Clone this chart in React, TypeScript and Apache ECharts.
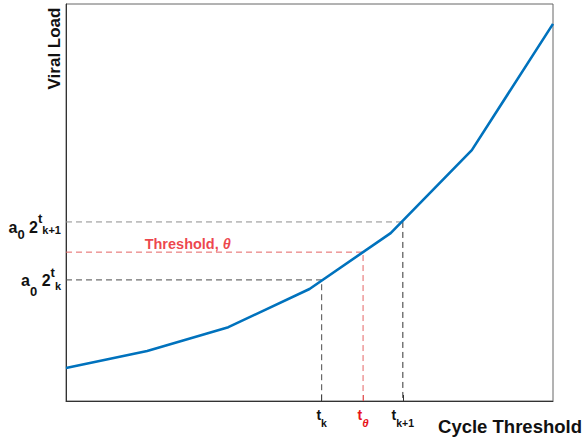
import React, { useEffect, useRef } from "react";
import * as echarts from "echarts";

// Cycle index (x) and viral load (y, arbitrary linear units)
const cycleValues = [0, 1, 2, 3, 4, 5, 6];
const viralLoad = [8.3, 12.6, 18.6, 28.2, 42.3, 63.2, 95.0];

// Threshold markers
const tK = 3.15;
const tTheta = 3.66;
const tK1 = 4.15;
const loadK = 30.5;
const loadTheta = 37.5;
const loadK1 = 45.1;

const xTickValues = [tK, tTheta, tK1];
const yTickValues = [loadK, loadK1];
const thresholdLabelPos = [1.5, loadTheta];

const FONT = "'Liberation Sans', Arial, Helvetica, sans-serif";
const RED = "#e8141c";

const pad = (d: number) => (d >= 0 ? [2 * d, 0, 0, 0] : [0, 0, -2 * d, 0]);

export default function App() {
  const ref = useRef<HTMLDivElement>(null);
  useEffect(() => {
    if (!ref.current) return;
    const chart = echarts.init(ref.current, null, { renderer: "svg" });
    const base = { fontFamily: FONT, fontWeight: "bold", color: "#111" };
    const option: any = {
      animation: false,
      grid: {
        left: 66,
        right: 31,
        top: 4,
        bottom: 40,
        show: true,
        borderColor: "#666",
        borderWidth: 1,
      },
      xAxis: [
        {
          type: "value",
          min: 0,
          max: 6,
          position: "bottom",
          axisLine: { show: true, onZero: false, lineStyle: { color: "#333", width: 1 } },
          splitLine: { show: false },
          axisTick: {
            show: true,
            inside: true,
            length: 6,
            customValues: [tK, tK1],
            lineStyle: { color: "#333" },
          },
          axisLabel: {
            customValues: xTickValues,
            margin: 7,
            formatter: (v: number) => {
              if (Math.abs(v - tTheta) < 1e-6) return "{rt|t}{rs|θ}";
              if (Math.abs(v - tK1) < 1e-6) return "{t|t}{s|k+1}";
              return "{t|t}{s|k}";
            },
            rich: {
              t: { ...base, fontSize: 14, padding: pad(-4) },
              s: { ...base, fontSize: 10.5, padding: pad(4) },
              rt: { ...base, color: RED, fontSize: 14, padding: pad(-4) },
              rs: { ...base, color: RED, fontSize: 11.5, fontStyle: "italic", padding: pad(4) },
            },
          },
        },
        {
          type: "value",
          min: 0,
          max: 6,
          position: "bottom",
          axisLine: { show: false },
          splitLine: { show: false },
          axisTick: {
            show: true,
            inside: true,
            length: 6,
            customValues: [tTheta],
            lineStyle: { color: "#e05050" },
          },
          axisLabel: { show: false },
        },
      ],
      yAxis: {
        type: "value",
        min: 0,
        max: 100,
        axisLine: { show: true, onZero: false, lineStyle: { color: "#333", width: 1 } },
        axisTick: { show: false },
        splitLine: { show: false },
        axisLabel: {
          customValues: yTickValues,
          margin: 5,
          formatter: (v: number) => {
            if (Math.abs(v - loadK1) < 1e-6) return "{a1|a}{z1|0}{a1| 2}{t1|t}{k1|k+1}";
            return "{a2|a}{z2|0}{a2| 2}{t2|t}{k2|k}";
          },
          rich: {
            a1: { ...base, fontSize: 16, padding: pad(5.8) },
            z1: { ...base, fontSize: 13, padding: pad(12.8) },
            t1: { ...base, fontSize: 13, padding: pad(-3.2) },
            k1: { ...base, fontSize: 11, padding: pad(7.6) },
            a2: { ...base, fontSize: 16, padding: pad(0.2) },
            z2: { ...base, fontSize: 13, padding: pad(11.2) },
            t2: { ...base, fontSize: 13, padding: pad(-7.8) },
            k2: { ...base, fontSize: 11, padding: pad(6) },
          },
        },
      },
      series: [
        {
          type: "line",
          data: [[0, loadK1], [tK1, loadK1]],
          symbol: "none",
          silent: true,
          lineStyle: { color: "#8e8e8e", width: 1, type: [6, 4] },
          z: 1,
        },
        {
          type: "line",
          data: [[tK1, loadK1], [tK1, 0]],
          symbol: "none",
          silent: true,
          lineStyle: { color: "#333", width: 1, type: [6, 4] },
          z: 1,
        },
        {
          type: "line",
          data: [[0, loadK], [tK, loadK], [tK, 0]],
          symbol: "none",
          silent: true,
          lineStyle: { color: "#4a4a4a", width: 1, type: [6, 4] },
          z: 1,
        },
        {
          type: "line",
          data: [[0, loadTheta], [tTheta, loadTheta], [tTheta, 0]],
          symbol: "none",
          silent: true,
          lineStyle: { color: "#e46464", width: 1, type: [6, 4] },
          z: 1,
        },
        {
          type: "scatter",
          data: [thresholdLabelPos],
          symbolSize: 0,
          silent: true,
          label: {
            show: true,
            position: "top",
            distance: 1,
            formatter: "{r|Threshold, }{th|θ}",
            rich: {
              r: { fontFamily: FONT, fontWeight: "bold", fontSize: 14.5, color: RED },
              th: { fontFamily: FONT, fontWeight: "bold", fontStyle: "italic", fontSize: 14.5, color: RED },
            },
          },
          z: 3,
        },
        {
          type: "line",
          data: cycleValues.map((x, i) => [x, viralLoad[i]]),
          symbol: "none",
          silent: true,
          lineStyle: { color: "#0072BD", width: 2.6 },
          z: 5,
        },
      ],
      graphic: [
        {
          type: "text",
          x: 54,
          y: 48.5,
          rotation: Math.PI / 2,
          style: {
            text: "Viral Load",
            fontFamily: FONT,
            fontWeight: "bold",
            fontSize: 17,
            fill: "#111",
            textAlign: "center",
            textVerticalAlign: "middle",
          },
        },
        {
          type: "text",
          x: 510,
          y: 426,
          style: {
            text: "Cycle Threshold",
            fontFamily: FONT,
            fontWeight: "bold",
            fontSize: 18.5,
            fill: "#111",
            textAlign: "center",
            textVerticalAlign: "middle",
          },
        },
      ],
    };
    chart.setOption(option);
    return () => chart.dispose();
  }, []);
  return (
    <div
      ref={ref}
      style={{ position: "fixed", left: 0, top: 0, width: 584, height: 441, background: "#fff" }}
    />
  );
}
